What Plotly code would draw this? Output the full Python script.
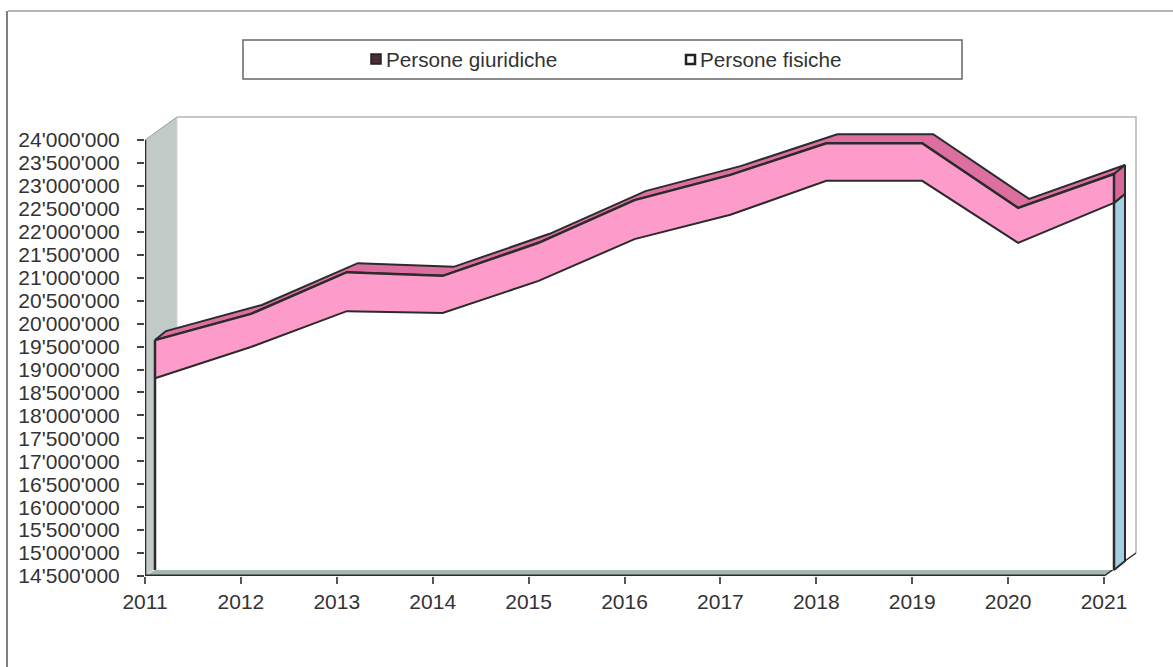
import plotly.graph_objects as go

years = [2011, 2012, 2013, 2014, 2015, 2016, 2017, 2018, 2019, 2020, 2021]
persone_fisiche = [18680000, 19360000, 20140000, 20100000, 20800000, 21710000, 22240000, 22980000, 22980000, 21630000, 22500000]
persone_giuridiche = [830000, 720000, 850000, 810000, 830000, 850000, 870000, 820000, 820000, 760000, 630000]
y_ticks = [14500000, 15000000, 15500000, 16000000, 16500000, 17000000, 17500000, 18000000, 18500000, 19000000,
           19500000, 20000000, 20500000, 21000000, 21500000, 22000000, 22500000, 23000000, 23500000, 24000000]
y_labels = [f"{v:,}".replace(",", "'") for v in y_ticks]
legend_labels = ["Persone giuridiche", "Persone fisiche"]

# scale of the axes, in pixels
PX_PER_YEAR = 95.9
PX_PER_UNIT = 45.89 / 1e6
L, R, T, B = 145, 1145, 105, 576
W, H = 1173, 667
YMIN, YMAX = y_ticks[0], y_ticks[-1]
X0, X1 = years[0], years[-1]
INK = "#2b2b2b"


def dx(px):
    return px / PX_PER_YEAR


def dy(px):
    return px / PX_PER_UNIT


def off(xs, ys, ox, oy):
    return [x + dx(ox) for x in xs], [y + dy(oy) for y in ys]


FRONT = (10, 6)
BACK = (21, 15)
WALL = (32, 23)

total = [a + b for a, b in zip(persone_fisiche, persone_giuridiche)]
fig = go.Figure()


def poly(xs, ys, fill, line=None, width=1.5, closed=True):
    if closed:
        xs, ys = list(xs) + [xs[0]], list(ys) + [ys[0]]
    fig.add_trace(go.Scatter(
        x=xs, y=ys, mode="lines", fill="toself" if fill else "none", fillcolor=fill,
        line=dict(color=line or "rgba(0,0,0,0)", width=width), cliponaxis=False,
        hoverinfo="skip", showlegend=False))


# back wall
bx, by = off([X0, X1, X1, X0], [YMAX, YMAX, YMIN, YMIN], *WALL)
poly(bx[:2] + bx[2:3], by[:2] + by[2:3], None, "#b5b5b5", 1.5, closed=False)
# side wall
poly([X0, X0, X0 + dx(WALL[0]), X0 + dx(WALL[0])], [YMIN, YMAX, YMAX + dy(WALL[1]), YMIN + dy(WALL[1])], "#c2cac8")
poly([X0 + dx(WALL[0]), X0 + dx(WALL[0])], [YMAX + dy(WALL[1]), YMIN + dy(WALL[1])], None, "#d5d5d5", 1, closed=False)
poly([X0, X0 + dx(WALL[0])], [YMAX, YMAX + dy(WALL[1])], None, "#9a9a9a", 1, closed=False)
# floor strip
fx, fy = off([X1, X0], [YMIN, YMIN], *FRONT)
poly([X0, X1] + fx, [YMIN, YMIN] + fy, "#a5b7b3")
poly([X1, X1 + dx(WALL[0])], [YMIN, YMIN + dy(WALL[1])], None, INK, 1.5, closed=False)

# top face of the upper series
ftx, fty = off(years, total, *FRONT)
btx, bty = off(years, total, *BACK)
poly(ftx + btx[::-1], fty + bty[::-1], "#dc6f9f", INK, 2)

# right side faces
sfx, sfy = off([X1], [persone_fisiche[-1]], *FRONT)
sbx, sby = off([X1], [persone_fisiche[-1]], *BACK)
stx, sty = off([X1], [total[-1]], *FRONT)
ubx, uby = off([X1], [total[-1]], *BACK)
bottom_f = YMIN + dy(FRONT[1])
bottom_b = YMIN + dy(BACK[1])
poly([sfx[0], sbx[0], sbx[0], sfx[0]], [sfy[0], sby[0], bottom_b, bottom_f], "#a6cfe4", INK, 2)
poly([stx[0], ubx[0], sbx[0], sfx[0]], [sty[0], uby[0], sby[0], sfy[0]], "#d9689a", INK, 2)

# front faces
lx, ly = off(years, persone_fisiche, *FRONT)
poly(lx + lx[::-1], ly + [bottom_f] * len(lx), "#ffffff")
poly(ftx + lx[::-1], fty + ly[::-1], "#fd9ccb")
poly(lx, ly, None, INK, 2, closed=False)
poly(ftx, fty, None, INK, 2.5, closed=False)
poly([lx[0], lx[0]], [bottom_f, fty[0]], None, INK, 2.5, closed=False)
poly([lx[-1], lx[-1]], [bottom_f, fty[-1]], None, INK, 2.5, closed=False)

# axis lines
poly([X0, X0], [YMIN, YMAX], None, INK, 2.5, closed=False)
poly([X0, X1], [YMIN, YMIN], None, INK, 3, closed=False)


def xp(px):
    return (px - L) / (R - L)


def yp(py):
    return (B - py) / (B - T)


shapes = [
    dict(type="line", xref="paper", yref="paper", x0=xp(8), x1=xp(1173), y0=yp(11), y1=yp(11), line=dict(color="#9c9c9c", width=1.5)),
    dict(type="line", xref="paper", yref="paper", x0=xp(7), x1=xp(7), y0=yp(11), y1=yp(667), line=dict(color="#808080", width=2)),
    dict(type="rect", xref="paper", yref="paper", x0=xp(243), x1=xp(962), y0=yp(79), y1=yp(40), line=dict(color="#666666", width=1.5), fillcolor="#ffffff"),
    dict(type="rect", xref="paper", yref="paper", x0=xp(371), x1=xp(381), y0=yp(64), y1=yp(54), line=dict(color="#222222", width=1.5), fillcolor="#4a2c3a"),
    dict(type="rect", xref="paper", yref="paper", x0=xp(686), x1=xp(695), y0=yp(64), y1=yp(55), line=dict(color="#222222", width=2.5), fillcolor="#ffffff"),
]
annotations = [
    dict(text=legend_labels[0], xref="paper", yref="paper", x=xp(384), y=yp(59), xanchor="left", yanchor="middle", showarrow=False,
         font=dict(family="Liberation Sans", size=20.7, color="#333333")),
    dict(text=legend_labels[1], xref="paper", yref="paper", x=xp(698), y=yp(59), xanchor="left", yanchor="middle", showarrow=False,
         font=dict(family="Liberation Sans", size=20.7, color="#333333")),
]

fig.update_layout(
    width=W, height=H, margin=dict(l=L, r=W - R, t=T, b=H - B, pad=0, autoexpand=False),
    paper_bgcolor="#ffffff", plot_bgcolor="#ffffff", showlegend=False, hovermode=False,
    shapes=shapes, annotations=annotations,
    font=dict(family="Liberation Sans", size=21, color="#333333"),
    xaxis=dict(range=[X0, X0 + (R - L) / PX_PER_YEAR], tickmode="array", tickvals=years, ticktext=[str(y) for y in years],
               showgrid=False, zeroline=False, showline=False, ticks="outside", ticklen=7, tickwidth=1.5, tickcolor="#555555",
               ticklabelstandoff=0),
    yaxis=dict(range=[YMIN, YMIN + (B - T) / PX_PER_UNIT], tickmode="array", tickvals=y_ticks, ticktext=y_labels,
               showgrid=False, zeroline=False, showline=False, ticks="outside", ticklen=7, tickwidth=1.5, tickcolor="#444444",
               ticklabelstandoff=13),
)

fig.write_html("out.html", config=dict(displayModeBar=False), post_script="document.body.style.margin='0';")
